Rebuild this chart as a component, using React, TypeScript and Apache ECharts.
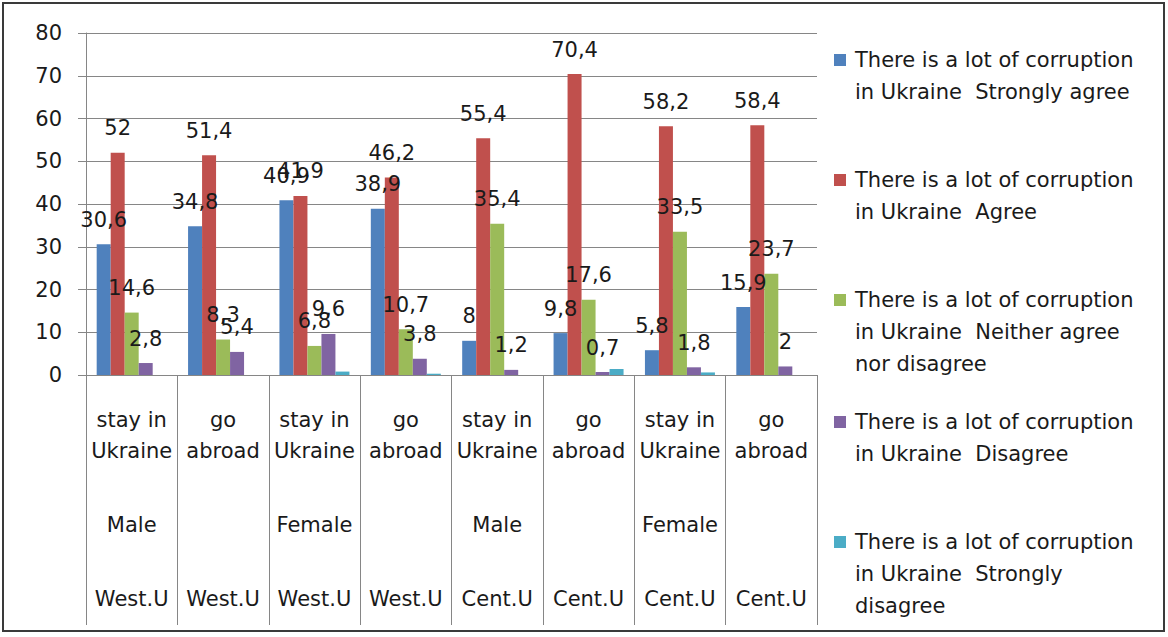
import React, { useEffect, useRef } from "react";
import * as echarts from "echarts";

const categoriesTop = ["stay in\nUkraine", "go\nabroad", "stay in\nUkraine", "go\nabroad", "stay in\nUkraine", "go\nabroad", "stay in\nUkraine", "go\nabroad"];
const categoriesGender = ["Male", "", "Female", "", "Male", "", "Female", ""];
const categoriesRegion = ["West.U", "West.U", "West.U", "West.U", "Cent.U", "Cent.U", "Cent.U", "Cent.U"];

const seriesNames = [
  "There is a lot of corruption in Ukraine  Strongly agree",
  "There is a lot of corruption in Ukraine  Agree",
  "There is a lot of corruption in Ukraine  Neither agree nor disagree",
  "There is a lot of corruption in Ukraine  Disagree",
  "There is a lot of corruption in Ukraine  Strongly disagree",
];
const legendLines = [
  ["There is a lot of corruption", "in Ukraine  Strongly agree"],
  ["There is a lot of corruption", "in Ukraine  Agree"],
  ["There is a lot of corruption", "in Ukraine  Neither agree", "nor disagree"],
  ["There is a lot of corruption", "in Ukraine  Disagree"],
  ["There is a lot of corruption", "in Ukraine  Strongly", "disagree"],
];

const stronglyAgree = [30.6, 34.8, 40.9, 38.9, 8, 9.8, 5.8, 15.9];
const agree = [52, 51.4, 41.9, 46.2, 55.4, 70.4, 58.2, 58.4];
const neither = [14.6, 8.3, 6.8, 10.7, 35.4, 17.6, 33.5, 23.7];
const disagree = [2.8, 5.4, 9.6, 3.8, 1.2, 0.7, 1.8, 2];
const stronglyDisagree = [0, 0, 0.8, 0.3, 0, 1.4, 0.6, 0];

const seriesData = [stronglyAgree, agree, neither, disagree, stronglyDisagree];
const showLabels = [true, true, true, true, false];
const colors = ["#4F81BD", "#C0504D", "#9BBB59", "#8064A2", "#4BACC6"];
const yTicks = ["0", "10", "20", "30", "40", "50", "60", "70", "80"];

const FONT = "DejaVu Sans";
const FS = 21;
const TXT = "#1a1a1a";

export default function App() {
  const ref = useRef<HTMLDivElement>(null);
  useEffect(() => {
    if (!ref.current) return;
    const chart = echarts.init(ref.current, null, { renderer: "svg" });
    const legendFirstLineY = [60, 180, 300, 422, 542];
    const LH = 32;
    const legends = seriesNames.map((name, i) => {
      const lines = legendLines[i];
      const lead = lines.length - 1;
      const text = "\n".repeat(lead) + lines.join("\n");
      const total = (lead + lines.length) * LH;
      return {
        show: true,
        data: [{ name, icon: "rect" }],
        orient: "vertical",
        left: 834,
        top: legendFirstLineY[i] - total / 2,
        padding: 0,
        itemWidth: 12,
        itemHeight: 12,
        selectedMode: false,
        formatter: () => text,
        textStyle: {
          fontFamily: FONT,
          fontSize: FS,
          color: TXT,
          lineHeight: LH,
          padding: [0, 0, 0, 4],
        },
      };
    });
    const labels = categoriesTop.map((t, i) => {
      const [l1, l2] = t.split("\n");
      return `{a|${l1}}\n{a|${l2}}\n{g| }\n{a|${categoriesGender[i] || " "}}\n{g| }\n{a|${categoriesRegion[i]}}`;
    });
    chart.setOption({
      animation: false,
      backgroundColor: "#fff",
      legend: legends,
      grid: { left: 86, right: 351, top: 33, bottom: 262, containLabel: false },
      xAxis: {
        type: "category",
        data: labels,
        axisLine: { lineStyle: { color: "#868686", width: 1 } },
        axisTick: { show: true, length: 250, lineStyle: { color: "#868686", width: 1 } },
        axisLabel: {
          interval: 0,
          margin: 29,
          color: TXT,
          fontFamily: FONT,
          fontSize: FS,
          rich: {
            a: { fontFamily: FONT, fontSize: FS, lineHeight: 31, color: TXT },
            g: { fontFamily: FONT, fontSize: FS, lineHeight: 43 },
          },
        },
      },
      yAxis: {
        type: "value",
        min: 0,
        max: 80,
        interval: 10,
        axisLine: { show: true, lineStyle: { color: "#868686" } },
        axisTick: { show: true, length: 8, lineStyle: { color: "#868686" } },
        splitLine: { show: true, lineStyle: { color: "#868686", width: 1 } },
        axisLabel: {
          margin: 24,
          color: TXT,
          fontFamily: FONT,
          fontSize: FS,
          formatter: (v: number) => yTicks[Math.round(v / 10)] ?? String(v),
        },
      },
      series: seriesNames.map((name, i) => ({
        name,
        type: "bar",
        data: seriesData[i],
        barWidth: 14,
        barGap: "0%",
        itemStyle: { color: colors[i] },
        label: {
          show: showLabels[i],
          position: "top",
          distance: 14,
          color: TXT,
          fontFamily: FONT,
          fontSize: FS,
          formatter: (p: any) => String(p.value).replace(".", ","),
        },
      })),
      graphic: [
        {
          type: "rect",
          shape: { x: 3, y: 3, width: 1161, height: 628 },
          style: { fill: "none", stroke: "#3a3a3a", lineWidth: 2 },
          silent: true,
        },
      ],
    });
    return () => chart.dispose();
  }, []);
  return (
    <div
      ref={ref}
      style={{ position: "fixed", left: 0, top: 0, width: 1168, height: 637 }}
    />
  );
}
